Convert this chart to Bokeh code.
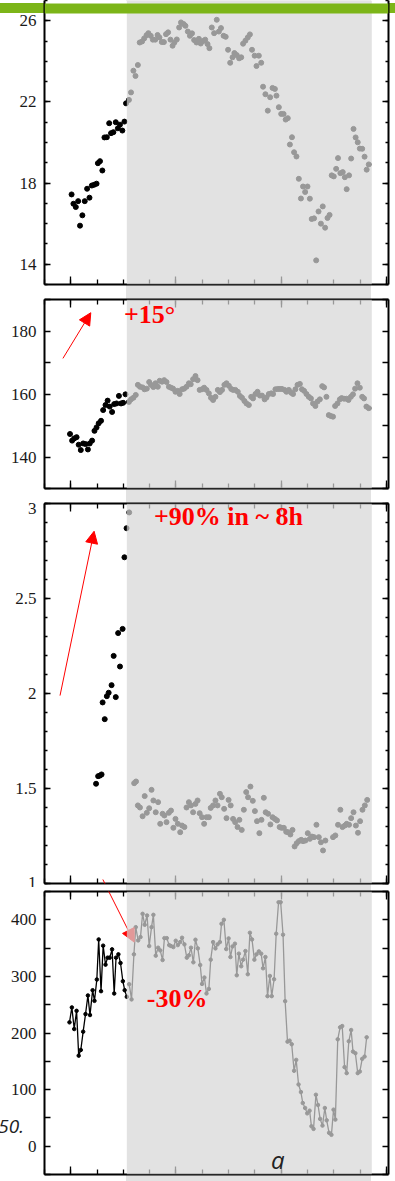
from bokeh.plotting import figure
from bokeh.layouts import column
from bokeh.models import (FixedTicker, LinearAxis, Range1d, Arrow, NormalHead, Label,
                          CustomLabelingPolicy, BoxAnnotation, Div)
from bokeh.embed import file_html
from bokeh.resources import INLINE

# ---------------- data ----------------
# panel 1
p1_black_x = [0.03, 0.10, 0.19, 0.28, 0.35, 0.44, 0.53, 0.62, 0.71, 0.80, 0.89, 0.98, 1.03, 1.11, 1.20,
              1.28, 1.37, 1.46, 1.53, 1.62, 1.71, 1.79, 1.87, 1.96, 2.04, 2.10]
p1_black_y = [17.44, 16.98, 16.82, 17.11, 15.9, 16.41, 17.11, 17.72, 17.28, 17.88, 17.92, 17.97, 18.98, 19.08,
              18.62, 20.25, 20.26, 20.95, 20.46, 20.51, 21.0, 20.7, 20.88, 20.59, 21.03, 21.93]
p1_gray_x = [2.21, 2.29, 2.38, 2.46, 2.55, 2.62, 2.71, 2.79, 2.88, 2.95,
             3.04, 3.12, 3.21, 3.30, 3.37, 3.46, 3.54, 3.62, 3.70, 3.79,
             3.87, 3.94, 4.03, 4.12, 4.19, 4.29, 4.36, 4.45, 4.53, 4.61,
             4.69, 4.78, 4.87, 4.94, 5.03, 5.11, 5.20, 5.27, 5.36, 5.45,
             5.55, 5.63, 5.71, 5.81, 5.89, 5.98, 6.06, 6.15, 6.22, 6.31,
             6.40, 6.48, 6.55, 6.64, 6.73, 6.81, 6.89, 6.99, 7.06, 7.15,
             7.24, 7.31, 7.40, 7.49, 7.58, 7.67, 7.76, 7.82, 7.91, 8.00,
             8.09, 8.17, 8.25, 8.33, 8.41, 8.49, 8.58, 8.67, 8.75, 8.83,
             8.91, 9.00, 9.09, 9.16, 9.25, 9.33, 9.42, 9.51, 9.58, 9.67,
             9.76, 9.84, 9.92, 10.00, 10.09, 10.16, 10.25, 10.34, 10.42, 10.49,
             10.58, 10.66, 10.75, 10.83, 10.91, 10.99, 11.08, 11.17, 11.25, 11.33]
p1_gray_y = [22.1, 22.47, 23.54, 23.28, 23.82, 24.93, 24.98, 25.13, 25.29, 25.39,
             25.26, 25.07, 25.07, 25.3, 25.18, 24.95, 24.95, 25.34, 25.43, 25.07,
             24.77, 24.93, 25.08, 25.67, 25.92, 25.84, 25.75, 25.47, 25.26, 25.38,
             25.05, 24.93, 25.11, 24.88, 25.0, 25.07, 24.85, 24.65, 25.67, 25.39,
             26.05, 25.47, 25.64, 25.26, 25.21, 24.57, 23.93, 24.2, 24.41, 24.31,
             24.15, 24.2, 24.87, 25.02, 25.18, 25.33, 24.57, 24.28, 23.77, 24.28,
             23.93, 22.75, 22.38, 21.57, 22.23, 22.69, 22.64, 22.31, 21.74, 21.41,
             21.41, 21.13, 21.2, 19.9, 20.26, 19.52, 19.31, 18.21, 17.24, 17.83,
             17.56, 17.83, 17.23, 16.23, 16.26, 14.19, 16.6, 16.0, 16.85, 15.8,
             16.28, 16.43, 18.38, 18.33, 18.7, 19.23, 18.49, 18.54, 18.29, 17.7,
             18.38, 19.21, 20.67, 20.25, 20.01, 19.7, 19.69, 19.3, 18.66, 18.92]

# panel 2
p2_black_x = [-0.03, 0.05, 0.13, 0.22, 0.30, 0.38, 0.47, 0.56, 0.65, 0.72, 0.81, 0.90, 0.98, 1.06, 1.15,
              1.23, 1.32, 1.40, 1.48, 1.57, 1.65, 1.74, 1.83, 1.91, 1.99, 2.08]
p2_black_y = [147.3, 145.2, 145.9, 146.3, 143.9, 142.2, 144.3, 144.1, 142.4, 144.3, 145.2, 148.3, 149.4,
              150.7, 151.5, 154.9, 156.5, 157.9, 156.0, 154.3, 156.8, 157.0, 159.4, 157.0, 157.2, 159.9]
p2_gray_x = [2.21, 2.29, 2.38, 2.47, 2.55, 2.63, 2.73, 2.80, 2.89, 2.98,
             3.05, 3.14, 3.22, 3.31, 3.38, 3.47, 3.55, 3.64, 3.73, 3.81,
             3.89, 3.98, 4.06, 4.14, 4.23, 4.31, 4.40, 4.49, 4.56, 4.65,
             4.74, 4.82, 4.90, 4.99, 5.07, 5.16, 5.25, 5.33, 5.41, 5.50,
             5.59, 5.67, 5.75, 5.84, 5.92, 6.01, 6.10, 6.17, 6.26, 6.35,
             6.43, 6.51, 6.60, 6.68, 6.77, 6.86, 6.93, 7.02, 7.10, 7.19,
             7.27, 7.37, 7.44, 7.53, 7.62, 7.69, 7.78, 7.87, 7.95, 8.03,
             8.13, 8.20, 8.29, 8.38, 8.45, 8.54, 8.62, 8.71, 8.79, 8.87,
             8.96, 9.05, 9.13, 9.21, 9.30, 9.38, 9.47, 9.56, 9.63, 9.72,
             9.81, 9.89, 9.97, 10.05, 10.14, 10.23, 10.30, 10.39, 10.48, 10.56,
             10.65, 10.73, 10.81, 10.90, 10.99, 11.08, 11.15, 11.24, 11.33]
p2_gray_y = [157.5, 158.3, 158.8, 159.7, 162.9, 162.3, 162.1, 161.5, 161.7, 163.8,
             162.9, 162.2, 163.4, 162.3, 164.2, 163.9, 164.4, 163.8, 162.3, 162.0,
             161.7, 160.7, 161.0, 160.0, 161.5, 161.7, 162.3, 163.4, 163.1, 164.7,
             165.7, 164.4, 161.3, 161.5, 162.0, 161.3, 160.2, 158.8, 158.1, 159.1,
             161.3, 160.6, 161.3, 162.9, 163.4, 162.6, 161.6, 161.3, 161.3, 160.7,
             159.4, 158.8, 157.8, 157.0, 156.5, 159.1, 158.6, 160.0, 160.7, 159.5,
             159.5, 158.3, 158.9, 160.0, 160.2, 160.0, 161.5, 161.6, 161.6, 161.6,
             161.3, 160.7, 161.3, 160.4, 160.0, 161.5, 162.9, 163.2, 161.5, 161.0,
             160.0, 159.1, 158.6, 157.0, 156.2, 157.6, 158.3, 162.5, 162.1, 159.1,
             153.3, 153.0, 152.8, 156.2, 157.0, 158.3, 158.7, 158.5, 158.5, 158.1,
             159.1, 159.9, 161.7, 163.4, 162.0, 159.1, 158.6, 156.0, 155.5]

# panel 3
p3_black_x = [0.96, 1.04, 1.11, 1.17, 1.21, 1.29, 1.37, 1.44, 1.55, 1.63, 1.71, 1.80, 1.87, 1.97, 2.04, 2.12]
p3_black_y = [1.525, 1.565, 1.568, 1.574, 1.953, 1.865, 1.986, 2.004, 2.044, 2.198, 1.981, 2.318, 2.142,
              2.34, 2.717, 2.87]
p3_gray_x = [2.22,
             2.41, 2.48, 2.55, 2.63, 2.73, 2.81, 2.89, 2.98, 3.07, 3.14,
             3.23, 3.32, 3.40, 3.49, 3.56, 3.64, 3.73, 3.81, 3.90, 3.98,
             4.07, 4.16, 4.23, 4.32, 4.40, 4.49, 4.57, 4.65, 4.74, 4.82,
             4.90, 4.99, 5.07, 5.16, 5.25, 5.32, 5.41, 5.50, 5.58, 5.67,
             5.74, 5.83, 5.92, 6.00, 6.08, 6.17, 6.25, 6.34, 6.41, 6.50,
             6.58, 6.67, 6.74, 6.83, 6.92, 7.00, 7.08, 7.17, 7.25, 7.34,
             7.41, 7.50, 7.59, 7.67, 7.76, 7.84, 7.94, 8.01, 8.10, 8.19,
             8.26, 8.35, 8.43, 8.51, 8.59, 8.67, 8.76, 8.83, 8.92, 9.01,
             9.09, 9.17, 9.25, 9.34, 9.43, 9.51, 9.59, 9.68,
             9.97, 10.06, 10.16, 10.25, 10.33, 10.42, 10.49, 10.58, 10.66, 10.75,
             10.84, 10.92, 11.00, 11.09, 11.18, 11.27]
p3_gray_y = [2.953,
             1.528, 1.537, 1.411, 1.40, 1.354, 1.46, 1.372, 1.396, 1.493, 1.437,
             1.375, 1.428, 1.314, 1.367, 1.358, 1.323, 1.372, 1.384, 1.293, 1.34,
             1.314, 1.27, 1.305, 1.297, 1.40, 1.428, 1.411, 1.375, 1.419, 1.437,
             1.37, 1.349, 1.314, 1.349, 1.349, 1.398, 1.411, 1.437, 1.411, 1.472,
             1.454, 1.393, 1.344, 1.44, 1.411, 1.34, 1.323, 1.297, 1.335, 1.282,
             1.388, 1.481, 1.454, 1.51, 1.435, 1.381, 1.328, 1.265, 1.335, 1.451,
             1.375, 1.367, 1.311, 1.349, 1.34, 1.332, 1.297, 1.293, 1.293, 1.272,
             1.27, 1.258, 1.282, 1.195, 1.212, 1.223, 1.23, 1.223, 1.226, 1.265,
             1.235, 1.247, 1.244, 1.309, 1.244, 1.217, 1.174, 1.226,
             1.244, 1.253, 1.309, 1.388, 1.297, 1.305, 1.314, 1.309, 1.344, 1.375,
             1.305, 1.267, 1.328, 1.388, 1.411, 1.44]

# panel 4
p4_black_x = [-0.05, 0.04, 0.13, 0.22, 0.30, 0.38, 0.47, 0.56, 0.65, 0.73, 0.83, 0.90, 0.99, 1.06, 1.15,
              1.23, 1.32, 1.40, 1.48, 1.57, 1.65, 1.72, 1.81, 1.89, 1.98, 2.05, 2.13]
p4_black_y = [218.8, 245.2, 207, 239.2, 160, 170, 202.3, 233.4, 266.3, 231.7, 275.6, 256.8, 294.5, 365.3,
              273.9, 354.3, 320.8, 333.1, 333.1, 347.8, 269.8, 333.1, 339, 323.7, 291.5, 275.6, 263.9]
p4_gray_x = [2.22, 2.31, 2.40, 2.47, 2.56, 2.65, 2.73, 2.81, 2.90, 2.98,
             3.07, 3.14, 3.23, 3.32, 3.40, 3.49, 3.56, 3.65, 3.74, 3.81,
             3.90, 3.99, 4.07, 4.16, 4.23, 4.32, 4.41, 4.49, 4.57, 4.66,
             4.74, 4.83, 4.92, 4.99, 5.08, 5.16, 5.25, 5.32, 5.41, 5.50,
             5.58, 5.67, 5.73, 5.82, 5.91, 6.00, 6.07, 6.15, 6.24, 6.31,
             6.39, 6.48, 6.55, 6.64, 6.73, 6.81, 6.89, 6.98, 7.06, 7.15,
             7.24, 7.31, 7.40, 7.48, 7.57, 7.64, 7.73, 7.81, 7.90, 7.98,
             8.07, 8.15, 8.24, 8.32, 8.40, 8.49, 8.57, 8.66, 8.75, 8.82,
             8.91, 8.99, 9.08, 9.15, 9.23, 9.32, 9.40, 9.48, 9.57, 9.66,
             9.73, 9.82, 9.91, 9.99, 10.06, 10.15, 10.24, 10.32, 10.41, 10.49,
             10.57, 10.66, 10.73, 10.82, 10.91, 10.99, 11.08, 11.17, 11.25]
p4_gray_y = [286.2, 259.3, 339, 387, 363.6, 369.4, 410.6, 391.2, 407.6, 353.6,
             387, 408.8, 336.7, 350.7, 346, 328.9, 367.6, 367.6, 355.3, 353.6,
             351.8, 363, 355.3, 360.6, 368.3, 356.6, 333.1, 337.2, 350.7, 324.9,
             364.8, 349.5, 320.1, 286.7, 298, 269.8, 277.9, 329.6, 360.6, 349.5,
             356.6, 360.6, 393, 400, 348.3, 367.1, 334.2, 353, 357.8, 302,
             340.2, 317.9, 329.6, 344.8, 303.8, 377.1, 365.3, 329.6, 339, 344.2,
             340.2, 314.3, 334.2, 265.1, 300.8, 265.1, 295, 375.4, 431, 431,
             373.6, 256.3, 184.7, 186.5, 180.1, 133.2, 152.5, 109.1, 95.7, 76.3,
             67.5, 58, 62.8, 35.2, 30.6, 90.9, 72.8, 48.2, 36.4, 67.5,
             45.7, 23.6, 20.1, 64.6, 47, 188.9, 210, 212.3, 139.7, 129.1,
             185.4, 205.3, 167.1, 164.3, 129.1, 131.9, 154.3, 158.3, 192.4]

# highlighted (shaded) time window
band_start, band_end = 2.13, 11.445

# axes ticks and tick labels
x_major = [0, 4, 8, 12]
x_minor = list(range(-1, 13))
p1_major = [14, 18, 22, 26]
p1_minor = list(range(13, 28))
p1_labels = {14: "14", 18: "18", 22: "22", 26: "26"}
p2_major = [130, 140, 150, 160, 170, 180, 190]
p2_labels = {130: "", 140: "140", 150: "", 160: "160", 170: "", 180: "180", 190: ""}
p3_major = [1, 1.5, 2, 2.5, 3]
p3_minor = [round(1 + 0.1 * i, 1) for i in range(21)]
p3_labels = {1: "1", 1.5: "1.5", 2: "2", 2.5: "2.5", 3: "3"}
p4_major = [-50, 0, 50, 100, 150, 200, 250, 300, 350, 400, 450]
p4_labels = {-50: "", 0: "0", 50: "", 100: "100", 150: "", 200: "200", 250: "",
             300: "300", 350: "", 400: "400", 450: ""}

# ---------------- style ----------------
X_RANGE = (-1.0, 12.08)
TICK_FONT = "Liberation Serif"
BLACK = "#000000"
RED = "#ff0000"
BAND = "#e2e2e2"
GREEN = "#7cb518"


def style_axis(ax, ticker, major_in, minor_in, labels=None, show=True):
    ax.ticker = ticker
    ax.axis_line_width = 2
    ax.axis_line_color = "black"
    ax.major_tick_in = major_in
    ax.major_tick_out = 0
    ax.minor_tick_in = minor_in
    ax.minor_tick_out = 0
    ax.major_tick_line_width = 1.3
    ax.minor_tick_line_width = 1.3
    if show:
        ax.major_label_text_font = TICK_FONT
        ax.major_label_text_font_size = "17px"
        ax.major_label_text_color = "#1a1a1a"
        ax.major_label_standoff = 8
        if labels is not None:
            ax.major_label_overrides = labels
    else:
        # mirror axis: ticks only, no tick labels at all
        ax.major_label_text_font_size = "0px"
        ax.major_label_standoff = 0
        ax.major_label_policy = CustomLabelingPolicy(code="return []")


def make_fig(frame_h, yr, btop, bbot, ymajor, yminor, ymaj_in, ymin_in, ylabels, top_axis=True):
    p = figure(frame_width=344, frame_height=frame_h,
               x_range=Range1d(*X_RANGE), y_range=Range1d(*yr),
               x_axis_location=None, y_axis_location=None,
               output_backend="svg", toolbar_location=None,
               min_border_left=44, min_border_right=7,
               min_border_top=btop, min_border_bottom=bbot)
    p.background_fill_color = "white"
    p.border_fill_color = None
    p.outline_line_color = None
    for g in p.grid:
        g.visible = False
    bx = LinearAxis()
    style_axis(bx, FixedTicker(ticks=x_major, minor_ticks=x_minor), 8, 5, show=False)
    p.add_layout(bx, "below")
    if top_axis:
        tx = LinearAxis()
        style_axis(tx, FixedTicker(ticks=x_major, minor_ticks=x_minor), 8, 5, show=False)
        p.add_layout(tx, "above")
    ly = LinearAxis()
    style_axis(ly, FixedTicker(ticks=ymajor, minor_ticks=yminor), ymaj_in, ymin_in, labels=ylabels, show=True)
    p.add_layout(ly, "left")
    ry = LinearAxis()
    style_axis(ry, FixedTicker(ticks=ymajor, minor_ticks=yminor), ymaj_in, ymin_in, show=False)
    p.add_layout(ry, "right")
    return p


def shade(p):
    # translucent grey veil over the highlighted window (greys data, ticks and frame below it)
    p.add_layout(BoxAnnotation(left=band_start, right=band_end, fill_color="#d6d6d6", fill_alpha=0.71,
                               line_color=None))


def red_label(p, x, y, text):
    p.add_layout(Label(x=x, y=y, text=text, text_font="Liberation Serif", text_font_style="bold",
                       text_font_size="26px", text_color=RED, text_align="left", text_baseline="middle"))


# Panel 1
f1 = make_fig(284, (13, 27), 0, 7, p1_major, p1_minor, 6, 3, p1_labels, top_axis=False)
f1.scatter(p1_black_x, p1_black_y, size=5, color=BLACK)
f1.scatter(p1_gray_x, p1_gray_y, size=5, color=BLACK)
shade(f1)
# green page rule crossing the top of the first panel
f1.add_layout(BoxAnnotation(bottom=26.36, top=26.852, fill_color=GREEN, fill_alpha=1.0,
                            line_color=None, level="overlay"))

# Panel 2
f2 = make_fig(189, (130, 190), 8, 14, p2_major, [], 6, 3, p2_labels)
f2.scatter(p2_black_x, p2_black_y, size=5, color=BLACK)
f2.scatter(p2_gray_x, p2_gray_y, size=5, color=BLACK)
shade(f2)
f2.add_layout(Arrow(end=NormalHead(size=12, fill_color=RED, line_color=RED, line_width=1),
                    x_start=-0.30, y_start=171.3, x_end=0.76, y_end=185.8, line_color=RED, line_width=1))
red_label(f2, 2.02, 185.1, "+15°")

# Panel 3
f3 = make_fig(380, (1, 3), 1, 4, p3_major, p3_minor, 6, 3, p3_labels)
f3.scatter(p3_black_x, p3_black_y, size=5, color=BLACK)
f3.scatter(p3_gray_x, p3_gray_y, size=5, color=BLACK)
shade(f3)
f3.add_layout(Arrow(end=NormalHead(size=12, fill_color=RED, line_color=RED, line_width=1),
                    x_start=-0.41, y_start=1.989, x_end=0.886, y_end=2.854, line_color=RED, line_width=1))
f3.add_layout(Arrow(end=None, x_start=1.22, y_start=1.021, x_end=1.37, y_end=0.979,
                    line_color=RED, line_width=1))
red_label(f3, 3.16, 2.93, "+90% in ~ 8h")

# Panel 4
f4 = make_fig(283, (-50, 450), 4, 7, p4_major, [], 6, 3, p4_labels)
f4.line(p4_black_x, p4_black_y, line_color=BLACK, line_width=1.3)
f4.scatter(p4_black_x, p4_black_y, size=3.5, color=BLACK)
f4.line(p4_gray_x, p4_gray_y, line_color=BLACK, line_width=1.3)
f4.scatter(p4_gray_x, p4_gray_y, size=3.5, color=BLACK)
f4.add_layout(Arrow(end=NormalHead(size=13, fill_color=RED, line_color=RED, line_width=1),
                    x_start=1.37, y_start=456.8, x_end=2.41, y_end=360.6, line_color=RED, line_width=1))
shade(f4)
red_label(f4, 2.89, 261.6, "-30%")
f4.add_layout(Label(x=7.87, y=-23, text="a", text_font="Open Sans", text_font_style="italic",
                    text_font_size="24px", text_color="#222222", text_align="center",
                    text_baseline="alphabetic"))

bg = ("linear-gradient(" + GREEN + ", " + GREEN + ") 0px 3px / 100% 10px no-repeat, "
      "linear-gradient(to right, #ffffff 126px, " + BAND + " 126px, " + BAND + " 371px, #ffffff 371px)")

layout = column(f1, f2, f3, f4, spacing=0,
                styles={"position": "absolute", "left": "0px", "top": "0px", "background": bg})

# stray text fragment at the left margin of the lower panel
side_note = Div(text='<span style="font-family:\'Open Sans\';font-style:italic;font-size:19px;'
                     'line-height:19px;color:#222222;white-space:nowrap;">50.</span>',
                width=29, height=19,
                styles={"position": "absolute", "left": "-10px", "top": "1112px", "text-align": "right"})

with open("out.html", "w") as fh:
    fh.write(file_html([layout, side_note], INLINE))
